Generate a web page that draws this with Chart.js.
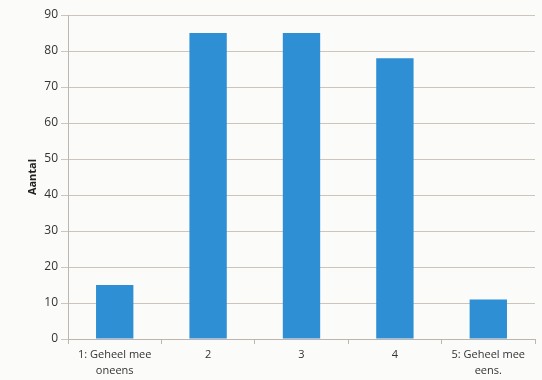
<!DOCTYPE html>
<html>
<head>
    <title>Aantal</title>
    <script src="https://cdn.jsdelivr.net/npm/chart.js"></script>
    <style>
        body { margin: 0; background: #fbfbfa; }
        #wrap { width: 542px; height: 380px; }
    </style>
</head>
<body>
    <div id="wrap"><canvas id="myChart"></canvas></div>

    <script>
        // categories and counts
        let labels = [['1: Geheel mee', 'oneens'], '2', '3', '4', ['5: Geheel mee', 'eens.']];
        let values = [15, 85, 85, 78, 11];
        let yTicks = [0, 10, 20, 30, 40, 50, 60, 70, 80, 90];

        let ctx = document.getElementById('myChart').getContext('2d');
        window.myChart = new Chart(ctx, {
            type: 'bar',
            data: {
                labels: labels,
                datasets: [{
                    label: 'Aantal',
                    data: values,
                    backgroundColor: '#2f8fd5',
                    borderWidth: 0,
                    categoryPercentage: 1,
                    barPercentage: 0.4
                }]
            },
            options: {
                responsive: true,
                maintainAspectRatio: false,
                animation: false,
                layout: { padding: { top: 15, right: 7, left: 26, bottom: 0 } },
                plugins: {
                    legend: { display: false },
                    tooltip: { enabled: false }
                },
                scales: {
                    x: {
                        grid: {
                            offset: true,
                            drawOnChartArea: false,
                            drawTicks: true,
                            tickLength: 5,
                            color: '#bdb5ae'
                        },
                        border: { color: '#bdb5ae' },
                        ticks: {
                            color: '#333',
                            font: { family: 'Open Sans', size: 11, lineHeight: 1.45 },
                            padding: 3,
                            maxRotation: 0
                        },
                        afterFit: function(scale) { scale.height = 41; }
                    },
                    y: {
                        min: 0,
                        max: 90,
                        afterBuildTicks: function(scale) {
                            scale.ticks = yTicks.map(v => ({ value: v }));
                        },
                        grid: {
                            color: '#cdc4bc',
                            tickLength: 7
                        },
                        border: { color: '#bdb5ae' },
                        ticks: {
                            color: '#333',
                            font: { family: 'Open Sans', size: 12 },
                            padding: 3
                        },
                        title: {
                            display: true,
                            text: 'Aantal',
                            color: '#222',
                            font: { family: 'Open Sans', size: 11, weight: 'bold' },
                            padding: { top: 0, bottom: 2 }
                        },
                        afterFit: function(scale) { scale.width = 42; }
                    }
                }
            }
        });
    </script>
</body>
</html>
